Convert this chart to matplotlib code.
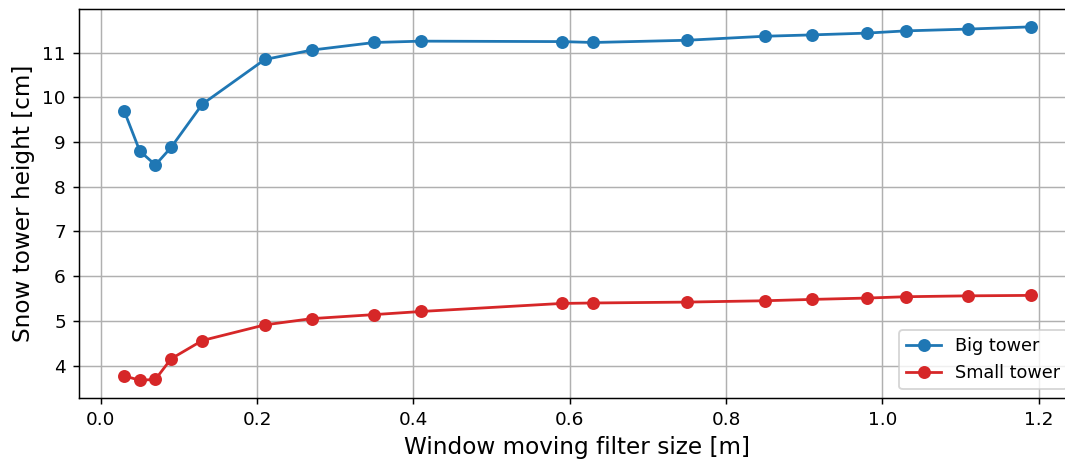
import matplotlib
matplotlib.use("Agg")
import matplotlib.pyplot as plt

# window sizes [m]
window_size = [0.03, 0.05, 0.07, 0.09, 0.13, 0.21, 0.27, 0.35, 0.41,
               0.59, 0.63, 0.75, 0.85, 0.91, 0.98, 1.03, 1.11, 1.19]

# snow tower heights [cm]
big_tower = [9.70, 8.80, 8.49, 8.88, 9.85, 10.85, 11.06, 11.23, 11.26,
             11.25, 11.23, 11.28, 11.37, 11.40, 11.44, 11.49, 11.53, 11.58]
small_tower = [3.77, 3.67, 3.69, 4.15, 4.56, 4.91, 5.05, 5.14, 5.21,
               5.39, 5.40, 5.42, 5.45, 5.48, 5.51, 5.54, 5.56, 5.57]

DPI = 133.125
fig, ax = plt.subplots(figsize=(1065 / DPI, 459 / DPI), dpi=DPI)
ax.plot(window_size, big_tower, "o-", color="tab:blue", label="Big tower")
ax.plot(window_size, small_tower, "o-", color="tab:red", label="Small tower")

ax.set_xlabel("Window moving filter size [m]", fontsize=12.5)
ax.set_ylabel("Snow tower height [cm]", fontsize=12.5)
ax.grid(True)
ax.legend(loc="lower right", fontsize=9.5)

# the original picture is cut off on the right, so the axes run past the edge
plt.subplots_adjust(left=0.074, right=1.0105, top=0.98, bottom=0.133)
plt.savefig("out.png", dpi=DPI)
